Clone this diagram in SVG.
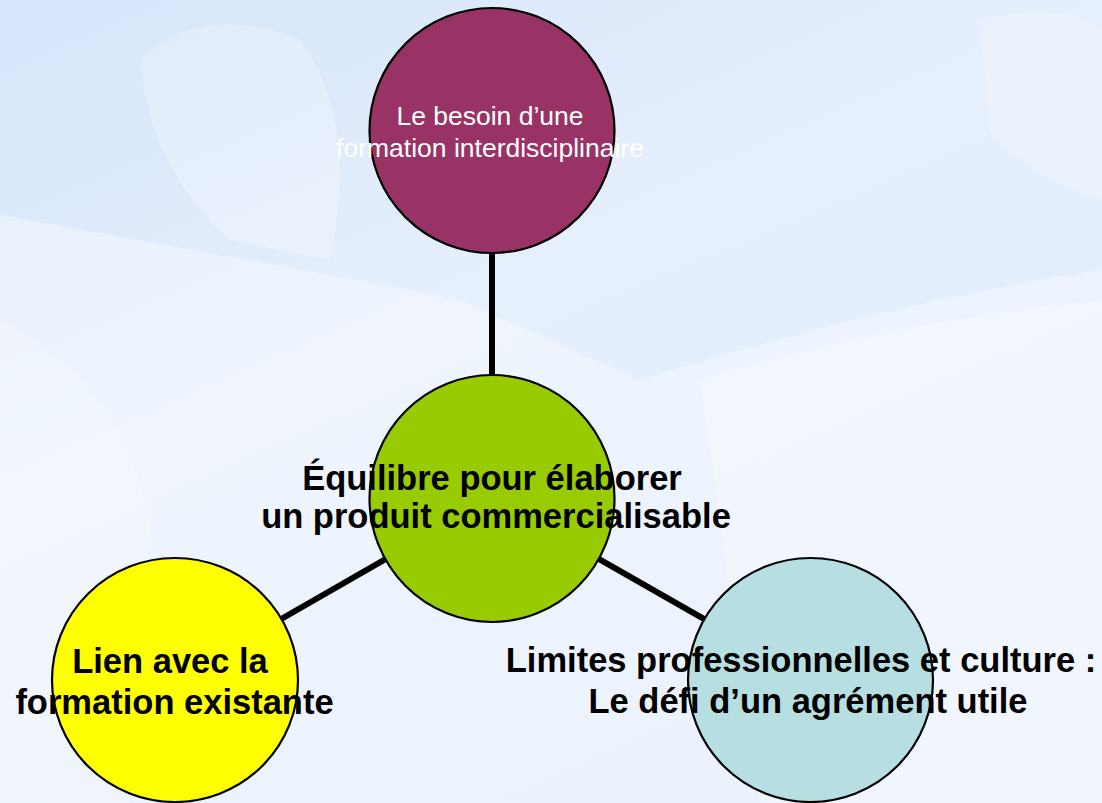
<svg xmlns="http://www.w3.org/2000/svg" width="1102" height="803" viewBox="0 0 1102 803">
<defs>
<linearGradient id="bg" x1="0" y1="0" x2="0.6" y2="1">
<stop offset="0" stop-color="#d5e5fa"/>
<stop offset="0.45" stop-color="#e6effc"/>
<stop offset="1" stop-color="#e2ecfb"/>
</linearGradient>
<style>
.node{stroke:#000;stroke-width:2.2}
.conn{stroke:#000;stroke-width:6;fill:none}
.bold{font-family:"Liberation Sans",Arial,sans-serif;font-weight:bold;font-size:34.5px;fill:#000;text-anchor:middle}
.reg{font-family:"Liberation Sans",Arial,sans-serif;font-size:26.5px;fill:#fff;text-anchor:middle}
</style>
</defs>
<rect width="1102" height="803" fill="url(#bg)"/>
<g id="background" fill="#ffffff">
<path d="M0 215 Q250 260 460 300 L640 380 Q900 300 1102 270 L1102 803 L0 803 Z" opacity="0.35"/>
<path d="M140 60 Q200 0 300 40 Q360 120 330 260 L230 240 Q150 170 140 60 Z" opacity="0.25"/>
<path d="M0 320 Q120 380 150 520 L130 803 L0 803 Z" opacity="0.2"/>
<path d="M700 380 Q900 320 1102 300 L1102 803 L760 803 Z" opacity="0.25"/>
<path d="M980 20 Q1060 0 1102 30 L1102 200 Q1030 180 990 130 Z" opacity="0.2"/>
</g>
<g id="connectors">
<line class="conn" x1="492" y1="250" x2="492" y2="380"/>
<line class="conn" x1="492" y1="498" x2="175" y2="680"/>
<line class="conn" x1="492" y1="498" x2="811" y2="680"/>
</g>
<g id="node-top">
<ellipse class="node" cx="492" cy="130.5" rx="122.5" ry="122.5" fill="#993366"/>
<text class="reg" x="490" y="125">Le besoin d’une</text>
<text class="reg" x="490" y="157">formation interdisciplinaire</text>
</g>
<g id="node-center">
<ellipse class="node" cx="492" cy="498.5" rx="122.5" ry="123.5" fill="#99cc00"/>
<text class="bold" x="492" y="490">Équilibre pour élaborer</text>
<text class="bold" x="496" y="528">un produit commercialisable</text>
</g>
<g id="node-left">
<ellipse class="node" cx="175" cy="680" rx="123" ry="122" fill="#ffff00"/>
<text class="bold" x="170" y="673">Lien avec la</text>
<text class="bold" x="174.5" y="714">formation existante</text>
</g>
<g id="node-right">
<ellipse class="node" cx="810.5" cy="680" rx="122.5" ry="122" fill="#b7dfe1"/>
<text class="bold" x="801" y="672">Limites professionnelles et culture :</text>
<text class="bold" x="808" y="713">Le défi d’un agrément utile</text>
</g>
</svg>
